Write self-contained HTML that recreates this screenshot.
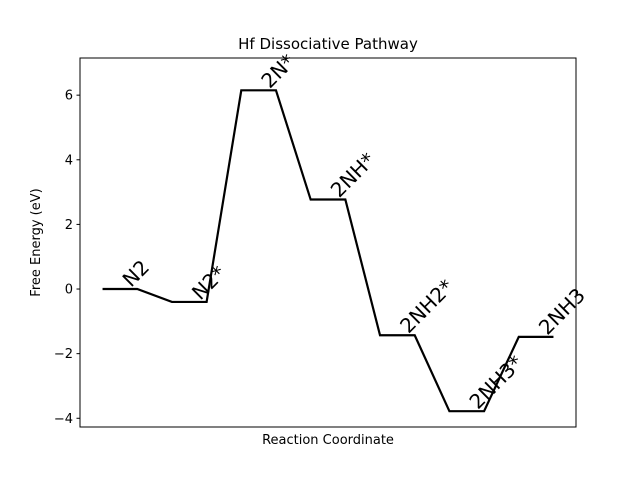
<!DOCTYPE html>
<html><head><meta charset="utf-8"><style>
body{margin:0;background:#fff;}
svg{display:block;font-family:"DejaVu Sans","Liberation Sans",sans-serif;}
</style></head><body>
<svg id="chart" width="640" height="480"></svg>
<script>
const categories = ["N2","N2*","2N*","2NH*","2NH2*","2NH3*","2NH3"];
const energies = [0, -0.40, 6.15, 2.77, -1.43, -3.78, -1.48];
const yTicks = [-4,-2,0,2,4,6];
const yTickLabels = ["\u22124","\u22122","0","2","4","6"];

const L=80,R=576,T=58,B=427;
const xMin=-0.325,xMax=6.825,yMin=-4.27,yMax=7.15;
const sx=v=>L+(v-xMin)/(xMax-xMin)*(R-L);
const sy=v=>B-(v-yMin)/(yMax-yMin)*(B-T);
const NS="http://www.w3.org/2000/svg";
const svg=document.getElementById('chart');
function mk(tag,attrs,parent){const e=document.createElementNS(NS,tag);for(const k in attrs)e.setAttribute(k,attrs[k]);(parent||svg).appendChild(e);return e;}

const title=mk('text',{x:(L+R)/2,y:49,'text-anchor':'middle','font-size':15,fill:'#000'});
title.textContent="Hf Dissociative Pathway";



let pts=[];
energies.forEach((e,i)=>{pts.push(sx(i)+','+sy(e));pts.push(sx(i+0.5)+','+sy(e));});
const line=mk('polyline',{points:pts.join(' '),fill:'none',stroke:'#000','stroke-width':2.2,'stroke-linejoin':'miter'});



energies.forEach((e,i)=>{
  const x=sx(i+0.41),y=sy(e)-1;
  const t=mk('text',{x:x,y:y,'font-size':20,fill:'#000',transform:`rotate(-45 ${x} ${y})`});
  t.textContent=categories[i];
  
  
});

const frame=mk('rect',{x:L,y:T,width:R-L,height:B-T,fill:'none',stroke:'#000','stroke-width':1});



yTicks.forEach((v,i)=>{
  const y=sy(v);
  const tk=mk('line',{x1:L-3.5,x2:L,y1:y,y2:y,stroke:'#000','stroke-width':1});
  
  
  const tl=mk('text',{x:L-7,y:y+4.5,'text-anchor':'end','font-size':13,fill:'#000'});
  tl.textContent=yTickLabels[i];
  
  
});

const yt=mk('text',{x:40,y:(T+B)/2,'text-anchor':'middle','font-size':13,fill:'#000',transform:`rotate(-90 40 ${(T+B)/2})`});
yt.textContent="Free Energy (eV)";


const xt=mk('text',{x:(L+R)/2,y:444,'text-anchor':'middle','font-size':13,fill:'#000'});
xt.textContent="Reaction Coordinate";


</script>
</body></html>
